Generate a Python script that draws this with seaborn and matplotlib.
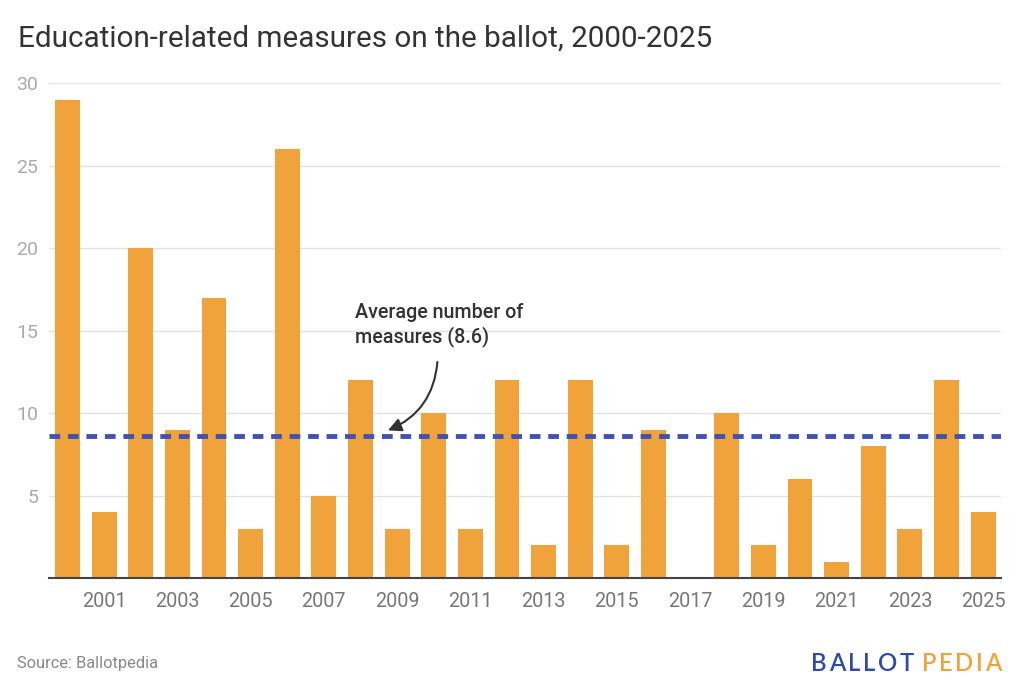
import pandas as pd
import matplotlib.pyplot as plt
import seaborn as sns

# data
years = list(range(2000, 2026))
measures = [29, 4, 20, 9, 17, 3, 26, 5, 12, 3, 10, 3, 12, 2, 12, 2, 9, 0, 10, 2, 6, 1, 8, 3, 12, 4]
average = 8.6
y_ticks = [5, 10, 15, 20, 25, 30]

df = pd.DataFrame({'year': [str(y) for y in years], 'measures': measures})

sns.set_theme(style='white')
plt.rcParams['font.family'] = ['Roboto', 'DejaVu Sans']

fig = plt.figure(figsize=(10.24, 6.97), dpi=100)
ax = fig.add_axes([0.048, 0.1707, 0.930, 0.710])

sns.barplot(data=df, x='year', y='measures', color='#f0a33a', saturation=1,
            width=0.68, linewidth=0, ax=ax, zorder=3)

# average line
ax.axhline(average, color='#3f51b5', lw=3.5, ls=(0, (2.2, 1.6)), zorder=4)

ax.set_ylim(0, 30)
ax.set_xlim(-0.5, len(years) - 0.5)
ax.set_yticks(y_ticks)
ax.set_yticklabels([str(t) for t in y_ticks], color='#aaaaaa', fontsize=14)
ax.yaxis.grid(True, color='#e3e3e3', lw=1, zorder=0)
ax.tick_params(axis='y', length=0, pad=8)

odd_idx = [i for i, y in enumerate(years) if y % 2 == 1]
ax.set_xticks(odd_idx)
ax.set_xticklabels([str(years[i]) for i in odd_idx], color='#777777', fontsize=14.3)
ax.tick_params(axis='x', length=0, pad=10)
ax.set_xlabel('')
ax.set_ylabel('')

for s in ['top', 'right', 'left']:
    ax.spines[s].set_visible(False)
ax.spines['bottom'].set_color('#444444')
ax.spines['bottom'].set_linewidth(1.5)
ax.spines['bottom'].set_zorder(5)

# annotation
ax.text(7.85, 14.0, 'Average number of\nmeasures (8.6)', fontsize=14.2,
        color='#333333', ha='left', va='bottom', linespacing=1.25,
        fontweight='medium', zorder=6)
ax.annotate('', xy=(8.75, 8.95), xytext=(10.1, 13.1),
            arrowprops=dict(arrowstyle='-|>', color='#333333', lw=1.5,
                            connectionstyle='arc3,rad=-0.3', shrinkA=0, shrinkB=0,
                            mutation_scale=20),
            zorder=6)

fig.text(0.0176, 0.945, 'Education-related measures on the ballot, 2000-2025',
         fontsize=21.3, color='#333333', ha='left', va='center')
fig.text(0.0166, 0.048, 'Source: Ballotpedia', fontsize=11.8, color='#888888',
         ha='left', va='center')

# logo, letter by letter with tracking
renderer = fig.canvas.get_renderer()
x_px = 811
tracking = 2.6
for word, col in [('BALLOT', '#2f4aa6'), ('PEDIA', '#f0a33a')]:
    for ch in word:
        t = fig.text(x_px / 1024, 0.048, ch, fontsize=17.2, color=col,
                     fontweight='semibold', ha='left', va='center',
                     family=['Lato', 'DejaVu Sans'])
        bb = t.get_window_extent(renderer)
        x_px += bb.width + tracking
    x_px += 5

fig.savefig('out.png', dpi=100, facecolor='white')
